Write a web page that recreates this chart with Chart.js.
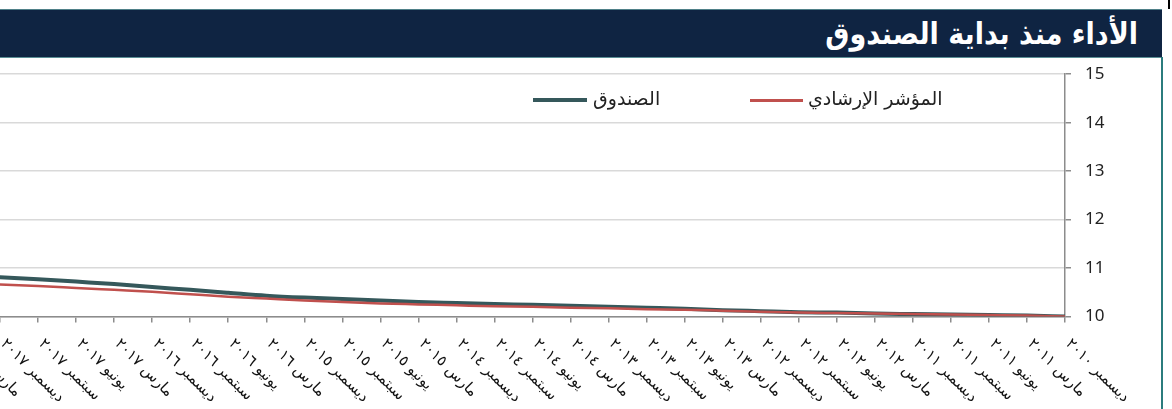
<!DOCTYPE html>
<html lang="ar">
<head>
<meta charset="utf-8">
<script src="https://cdn.jsdelivr.net/npm/chart.js@4"></script>
<style>
  html, body { margin: 0; padding: 0; background: #fff; }
  body { width: 1172px; height: 409px; position: relative; overflow: hidden; font-family: "DejaVu Sans", sans-serif; }
  #titleBar { position: absolute; left: 0; top: 9px; width: 1162px; height: 47px; background: #0f2442;
              border-top: 1px solid #4f8088; border-bottom: 1px solid #5a8f95; }
  #titleBar span { position: absolute; right: 24px; top: 6px; color: #fff; font: bold 30px "DejaVu Sans Condensed", "DejaVu Sans", sans-serif; }
  #rightEdge { position: absolute; left: 1161px; top: 57px; width: 2px; height: 352px; background: #2b7c7d; }
  #cornerMark { position: absolute; left: 1168px; top: 0; width: 2px; height: 9px; background: #000; }
  #chartBox { position: absolute; left: -50px; top: 50px; width: 1210px; height: 359px; }
  .lg-line { position: absolute; }
  .lg-text { position: absolute; font-size: 19px; color: #222; white-space: nowrap; }
</style>
</head>
<body>
<div id="titleBar"><span dir="rtl">الأداء منذ بداية الصندوق</span></div>
<div id="rightEdge"></div>
<div id="cornerMark"></div>
<div id="chartBox"><canvas id="perfChart"></canvas></div>
<div class="lg-line" style="left:750px; top:99px; width:53px; height:3px; background:#c0504d;"></div>
<div class="lg-text" dir="rtl" style="left:808px; top:87px;">المؤشر الإرشادي</div>
<div class="lg-line" style="left:533px; top:98px; width:54px; height:4px; background:#35585b;"></div>
<div class="lg-text" dir="rtl" style="left:593px; top:87px;">الصندوق</div>
<script>
// quarters, oldest first (axis is reversed so the oldest sits on the right)
const quarterLabels = [
    "ديسمبر ٢٠١٠", "مارس ٢٠١١", "يونيو ٢٠١١", "سبتمبر ٢٠١١",
    "ديسمبر ٢٠١١", "مارس ٢٠١٢", "يونيو ٢٠١٢", "سبتمبر ٢٠١٢",
    "ديسمبر ٢٠١٢", "مارس ٢٠١٣", "يونيو ٢٠١٣", "سبتمبر ٢٠١٣",
    "ديسمبر ٢٠١٣", "مارس ٢٠١٤", "يونيو ٢٠١٤", "سبتمبر ٢٠١٤",
    "ديسمبر ٢٠١٤", "مارس ٢٠١٥", "يونيو ٢٠١٥", "سبتمبر ٢٠١٥",
    "ديسمبر ٢٠١٥", "مارس ٢٠١٦", "يونيو ٢٠١٦", "سبتمبر ٢٠١٦",
    "ديسمبر ٢٠١٦", "مارس ٢٠١٧", "يونيو ٢٠١٧", "سبتمبر ٢٠١٧",
    "ديسمبر ٢٠١٧", "مارس ٢٠١٨"
];
const fundValues = [
    10.00, 10.02, 10.03, 10.04, 10.05, 10.06, 10.08, 10.09,
    10.11, 10.13, 10.16, 10.18, 10.20, 10.22, 10.24, 10.26,
    10.28, 10.30, 10.33, 10.36, 10.39, 10.43, 10.49, 10.55,
    10.61, 10.67, 10.72, 10.77, 10.81, 10.86
];
const benchmarkValues = [
    10.00, 10.02, 10.03, 10.04, 10.05, 10.06, 10.07, 10.08,
    10.10, 10.12, 10.14, 10.15, 10.17, 10.18, 10.20, 10.21,
    10.23, 10.25, 10.27, 10.30, 10.33, 10.37, 10.41, 10.46,
    10.51, 10.55, 10.59, 10.63, 10.66, 10.70
];
const fundLabel = "الصندوق";
const benchmarkLabel = "المؤشر الإرشادي";
const yMin = 10, yMax = 15, yStep = 1;

// x labels are slanted downwards (clockwise), which chart.js can't do itself
const slantedLabels = {
    id: 'slantedLabels',
    afterDraw(chart) {
        const s = chart.scales.x;
        const ctx = chart.ctx;
        ctx.save();
        ctx.font = '15px "DejaVu Sans"';
        ctx.fillStyle = '#111';
        ctx.direction = 'rtl';
        ctx.textAlign = 'left';
        ctx.textBaseline = 'middle';
        s.ticks.forEach((t, i) => {
            const x = s.getPixelForTick(i);
            ctx.save();
            ctx.translate(x + 3, s.top + 25);
            ctx.rotate(Math.PI / 4);
            ctx.fillText(s.getLabelForValue(t.value), 0, 0);
            ctx.restore();
        });
        ctx.restore();
    }
};

const ctx = document.getElementById('perfChart').getContext('2d');
const perfChart = new Chart(ctx, {
    type: 'line',
    data: {
        labels: quarterLabels,
        datasets: [{
            label: benchmarkLabel,
            data: benchmarkValues,
            borderColor: '#c0504d',
            borderWidth: 2.5,
            pointRadius: 0,
            cubicInterpolationMode: 'monotone'
        }, {
            label: fundLabel,
            data: fundValues,
            borderColor: '#35585b',
            borderWidth: 4,
            pointRadius: 0,
            cubicInterpolationMode: 'monotone'
        }]
    },
    options: {
        responsive: true,
        maintainAspectRatio: false,
        animation: false,
        layout: { padding: { top: 8, left: 12, right: 0, bottom: 0 } },
        plugins: {
            legend: { display: false },
            tooltip: { enabled: false }
        },
        scales: {
            x: {
                type: 'category',
                reverse: true,
                offset: false,
                ticks: { display: false },
                grid: { drawOnChartArea: false, drawTicks: true, tickLength: 6, tickColor: '#8c8c8c', lineWidth: 1.5 },
                border: { color: '#8c8c8c', width: 1.5 },
                afterFit: s => { s.height = 92.5; }
            },
            y: {
                position: 'right',
                min: yMin,
                max: yMax,
                ticks: { stepSize: yStep, color: '#222', padding: 14, font: { family: 'Noto Sans', size: 17 } },
                grid: { color: '#d9d9d9', lineWidth: 1.5, tickLength: 6, tickColor: '#8c8c8c' },
                border: { color: '#8c8c8c', width: 1.5 },
                afterFit: s => { s.width = 95; }
            }
        }
    },
    plugins: [slantedLabels]
});
</script>
</body>
</html>
